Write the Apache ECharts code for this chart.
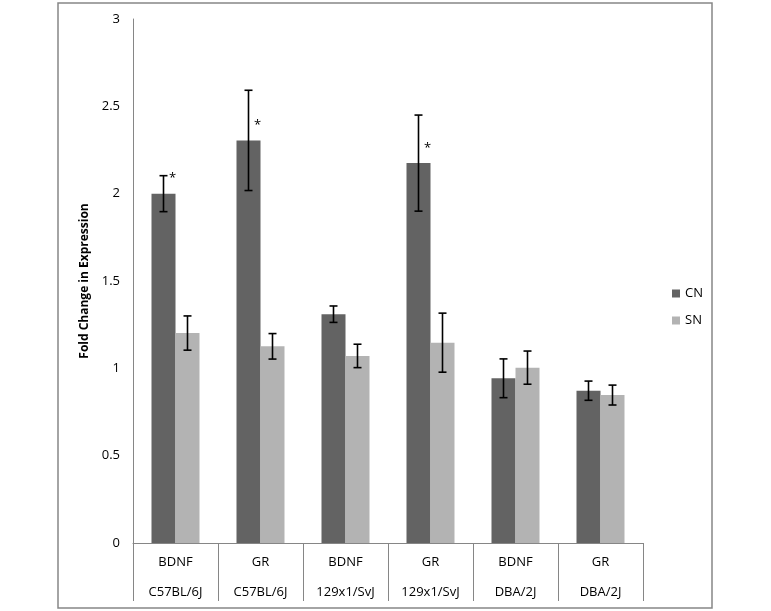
<!DOCTYPE html>
<html>
<head>
<meta charset="utf-8">
<script src="https://cdn.jsdelivr.net/npm/echarts@6/dist/echarts.min.js"></script>
<style>
  html, body { margin: 0; padding: 0; background: #fff; }
  #chart { width: 771px; height: 611px; }
</style>
</head>
<body>
<div id="chart"></div>
<script>
// Data
const genes = ["BDNF", "GR", "BDNF", "GR", "BDNF", "GR"];
const strains = ["C57BL/6J", "C57BL/6J", "129x1/SvJ", "129x1/SvJ", "DBA/2J", "DBA/2J"];
const cnValues = [2.0, 2.305, 1.31, 2.175, 0.943, 0.872];
const cnErrors = [0.103, 0.287, 0.047, 0.275, 0.111, 0.055];
const snValues = [1.202, 1.126, 1.071, 1.147, 1.004, 0.847];
const snErrors = [0.098, 0.073, 0.067, 0.169, 0.095, 0.057];
const cnSignificant = [true, true, false, true, false, false];
const yTicks = [0, 0.5, 1, 1.5, 2, 2.5, 3];

const categories = genes.map((g, i) => g + "\n" + strains[i]);

const font = "Open Sans";
const axisGray = "#868686";
const barHalf = 12;

// Build error bar rows: [category index, low, high, significant, value]
const errRows = (vals, errs, sig) =>
  vals.map((v, i) => [i, v - errs[i], v + errs[i], sig ? (sig[i] ? 1 : 0) : 0, v]);

const errorBarSeries = (rows, offset) => ({
  type: "custom",
  z: 5,
  silent: true,
  data: rows,
  encode: { x: 0, y: [1, 2] },
  renderItem: (params, api) => {
    const lowPt = api.coord([api.value(0), api.value(1)]);
    const highPt = api.coord([api.value(0), api.value(2)]);
    const topPt = api.coord([api.value(0), api.value(4)]);
    const x = lowPt[0] + offset;
    const cap = 4;
    const style = { stroke: "#000", lineWidth: 1.6 };
    const children = [
      { type: "line", shape: { x1: x, y1: highPt[1], x2: x, y2: lowPt[1] }, style },
      { type: "line", shape: { x1: x - cap, y1: highPt[1], x2: x + cap, y2: highPt[1] }, style },
      { type: "line", shape: { x1: x - cap, y1: lowPt[1], x2: x + cap, y2: lowPt[1] }, style }
    ];
    if (api.value(3)) {
      children.push({
        type: "text",
        style: {
          x: x + 9, y: topPt[1] - 15, text: "*",
          fill: "#000", font: "13px " + font,
          align: "center", verticalAlign: "middle"
        }
      });
    }
    return { type: "group", children };
  }
});

const chart = echarts.init(document.getElementById("chart"));
chart.setOption({
  animation: false,
  backgroundColor: "#fff",
  textStyle: { fontFamily: font },
  graphic: [{
    type: "rect",
    shape: { x: 58, y: 3, width: 654, height: 605 },
    style: { fill: "none", stroke: axisGray, lineWidth: 1.5 },
    silent: true
  }],
  grid: { left: 133, right: 128, top: 19, bottom: 68 },
  legend: {
    orient: "vertical",
    left: 667,
    top: 281,
    itemWidth: 8,
    itemHeight: 8,
    itemGap: 12,
    icon: "rect",
    textStyle: { fontFamily: font, fontSize: 13, color: "#000", lineHeight: 15 },
    data: ["CN", "SN"]
  },
  xAxis: {
    type: "category",
    data: categories,
    axisLine: { lineStyle: { color: axisGray, width: 1 } },
    axisTick: { show: true, length: 58, interval: 0, lineStyle: { color: axisGray } },
    axisLabel: {
      interval: 0,
      margin: 4,
      lineHeight: 30,
      fontFamily: font,
      fontSize: 13,
      color: "#000"
    }
  },
  yAxis: {
    type: "value",
    min: yTicks[0],
    max: yTicks[yTicks.length - 1],
    interval: 0.5,
    name: "Fold Change in Expression",
    nameLocation: "middle",
    nameGap: 35,
    nameTextStyle: { fontFamily: font, fontSize: 12, fontWeight: "bold", color: "#000" },
    axisLine: { show: true, lineStyle: { color: axisGray, width: 1 } },
    axisTick: { show: false },
    splitLine: { show: false },
    axisLabel: { fontFamily: font, fontSize: 13, color: "#000", margin: 13 }
  },
  series: [
    {
      name: "CN", type: "bar", data: cnValues,
      barWidth: 24, barGap: "0%",
      itemStyle: { color: "#636363" }
    },
    {
      name: "SN", type: "bar", data: snValues,
      barWidth: 24, barGap: "0%",
      itemStyle: { color: "#b3b3b3" }
    },
    errorBarSeries(errRows(cnValues, cnErrors, cnSignificant), -barHalf),
    errorBarSeries(errRows(snValues, snErrors, null), barHalf)
  ]
});
</script>
</body>
</html>
